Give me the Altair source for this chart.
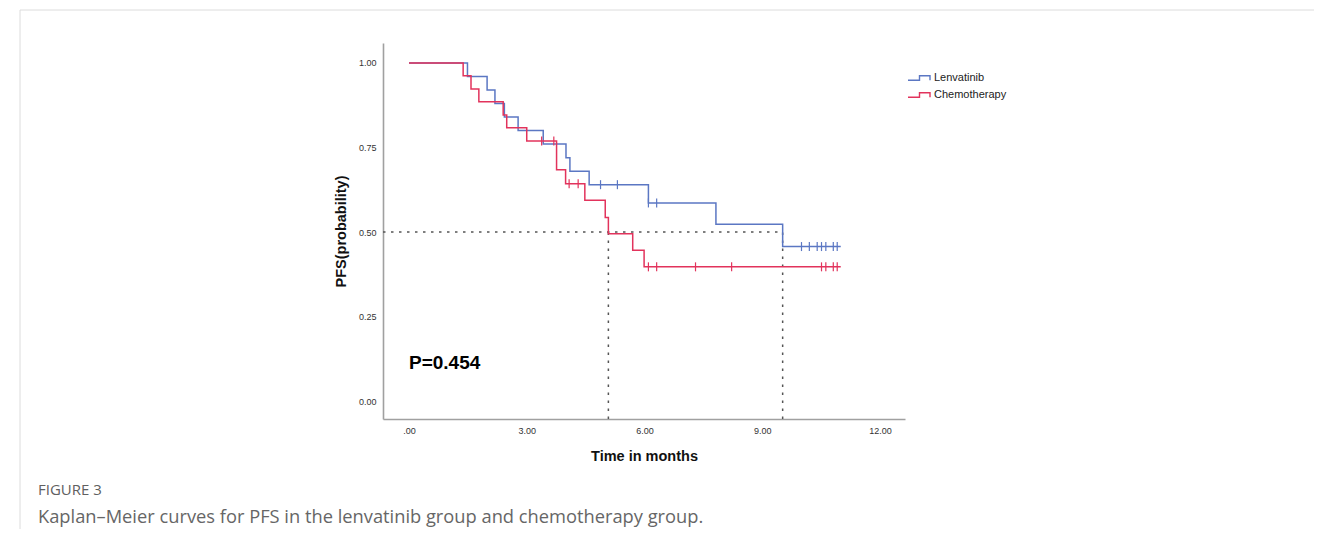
import altair as alt
import pandas as pd

# ---------------- data ----------------
groups = ["Lenvatinib", "Chemotherapy"]
palette = ["#5b77c3", "#e2335c"]

# step points (time in months, survival after the step); last point = end of follow-up
len_times = [0.00, 1.49, 1.99, 2.19, 2.43, 2.78, 3.42, 4.00, 4.10, 4.59, 6.10, 7.82, 9.52, 11.00]
len_surv = [1.000, 0.960, 0.920, 0.880, 0.840, 0.800, 0.760, 0.720, 0.680, 0.640, 0.586, 0.523, 0.457, 0.457]

chemo_times = [0.00, 1.38, 1.58, 1.78, 2.40, 2.49, 3.00, 3.76, 3.99, 4.48, 5.00, 5.08, 5.70, 5.99, 11.00]
chemo_surv = [1.000, 0.962, 0.923, 0.885, 0.846, 0.808, 0.769, 0.684, 0.643, 0.594, 0.543, 0.495, 0.446, 0.397, 0.397]

# censored observations
len_cens_times = [4.88, 5.31, 6.10, 6.31, 10.00, 10.20, 10.40, 10.51, 10.62, 10.81, 10.91]
len_cens_surv = [0.640, 0.640, 0.586, 0.586, 0.457, 0.457, 0.457, 0.457, 0.457, 0.457, 0.457]
chemo_cens_times = [3.38, 3.69, 4.08, 4.31, 6.10, 6.31, 7.30, 8.22, 10.51, 10.62, 10.81, 10.91]
chemo_cens_surv = [0.769, 0.769, 0.643, 0.643, 0.397, 0.397, 0.397, 0.397, 0.397, 0.397, 0.397, 0.397]

# median survival reference lines
median_times = [5.08, 9.52]
median_level = 0.5

# axis ranges and ticks
X_MIN, X_MAX = -0.662, 12.637
Y_MIN, Y_MAX = -0.053, 1.059
x_ticks = [0, 3, 6, 9, 12]
y_ticks = [0, 0.25, 0.5, 0.75, 1.0]

p_label = ["P=0.454"]
p_pos_t = [0.0]
p_pos_s = [0.112]

caption_head = "FIGURE 3"
caption_text = "Kaplan\u2013Meier curves for PFS in the lenvatinib group and chemotherapy group."

# ---------------- tables ----------------
curves = pd.DataFrame(
    [{"group": groups[0], "t": t, "s": s} for t, s in zip(len_times, len_surv)]
    + [{"group": groups[1], "t": t, "s": s} for t, s in zip(chemo_times, chemo_surv)]
)
cens = pd.DataFrame(
    [{"group": groups[0], "t": t, "s": s} for t, s in zip(len_cens_times, len_cens_surv)]
    + [{"group": groups[1], "t": t, "s": s} for t, s in zip(chemo_cens_times, chemo_cens_surv)]
)
h_rule = pd.DataFrame({"t": [X_MIN], "t2": [max(median_times)], "s": [median_level]})
v_rule = pd.DataFrame({"t": median_times, "s": [Y_MIN] * len(median_times), "s2": [median_level] * len(median_times)})
ptxt = pd.DataFrame({"t": p_pos_t, "s": p_pos_s, "label": p_label})

FONT = "Liberation Sans"
x_scale = alt.Scale(domain=[X_MIN, X_MAX], nice=False, zero=False)
y_scale = alt.Scale(domain=[Y_MIN, Y_MAX], nice=False, zero=False)

x_axis = alt.Axis(
    values=x_ticks, ticks=False, tickSize=0, grid=False, labelPadding=7,
    labelExpr="datum.value == 0 ? '.00' : format(datum.value, '.2f')",
    labelFont=FONT, labelFontSize=9, labelColor="#333",
    titleFont=FONT, titleFontSize=14.5, titleFontWeight="bold", titleColor="#111",
    titlePadding=14, domainColor="#a0a0a0", domainWidth=1.6,
)
y_axis = alt.Axis(
    values=y_ticks, ticks=False, tickSize=0, grid=False, labelPadding=7, format=".2f",
    labelFont=FONT, labelFontSize=9, labelColor="#333",
    titleFont=FONT, titleFontSize=14.5, titleFontWeight="bold", titleColor="#111",
    titlePadding=10, domainColor="#a0a0a0", domainWidth=1.6,
)


def X(field="t"):
    return alt.X(f"{field}:Q", scale=x_scale, axis=x_axis, title="Time in months")


def Y(field="s"):
    return alt.Y(f"{field}:Q", scale=y_scale, axis=y_axis, title="PFS(probability)")


step_icon = "M-1,0.45 L1.3,0.45 L1.3,-0.45 L3.4,-0.45 L3.4,0.45"
color_leg = alt.Color(
    "group:N",
    scale=alt.Scale(domain=groups, range=palette),
    legend=alt.Legend(
        title=None, orient="none", legendX=524, legendY=29, padding=0,
        symbolType=step_icon, symbolSize=100, symbolStrokeWidth=1.4,
        symbolFillColor="transparent", labelOffset=15,
        labelFont=FONT, labelFontSize=11, labelColor="#222", rowPadding=5,
    ),
)
color_noleg = alt.Color("group:N", scale=alt.Scale(domain=groups, range=palette), legend=None)

hline = alt.Chart(h_rule).mark_rule(color="#555", strokeDash=[2.5, 5.5], strokeWidth=1.5).encode(
    x=X(), x2="t2:Q", y=Y()
)
vline = alt.Chart(v_rule).mark_rule(color="#555", strokeDash=[2.5, 5.5], strokeWidth=1.5).encode(
    x=X(), y=Y(), y2="s2:Q"
)
lines = alt.Chart(curves).mark_line(interpolate="step-after", strokeWidth=1.5).encode(
    x=X(), y=Y(), color=color_leg
)
marks = alt.Chart(cens).mark_point(shape="M0,-1L0,1", size=81, strokeWidth=1.2, filled=False, opacity=1).encode(
    x=X(), y=Y(), color=color_noleg
)
ptext = alt.Chart(ptxt).mark_text(
    align="left", baseline="middle", font=FONT, fontSize=19, fontWeight="bold", color="#000"
).encode(x=X(), y=Y(), text="label:N")

frame_df = pd.DataFrame({"k": [0]})
top_border = alt.Chart(frame_df).mark_rule(color="#dcdcdc", strokeWidth=1).encode(
    x=alt.value(-363), x2=alt.value(939), y=alt.value(-33)
)
left_border = alt.Chart(frame_df).mark_rule(color="#dcdcdc", strokeWidth=1).encode(
    x=alt.value(-363), y=alt.value(-33), y2=alt.value(486)
)

chart = alt.layer(top_border, left_border, hline, vline, lines, marks, ptext).properties(
    width=522,
    height=376,
    padding={"left": 375, "top": 35, "right": 409, "bottom": 110},
    autosize=alt.AutoSizeParams(type="none"),
    title=alt.TitleParams(
        text=caption_head,
        subtitle=caption_text,
        orient="bottom",
        anchor="start",
        frame="group",
        dx=-345,
        dy=-47,
        offset=0,
        font="Open Sans",
        fontSize=15,
        fontWeight="normal",
        color="#606060",
        subtitleFont="Open Sans",
        subtitleFontSize=18.3,
        subtitleColor="#666",
        subtitlePadding=11,
    ),
).configure_view(strokeWidth=0)

chart.save("out.html", embed_options={"renderer": "svg", "actions": False})
